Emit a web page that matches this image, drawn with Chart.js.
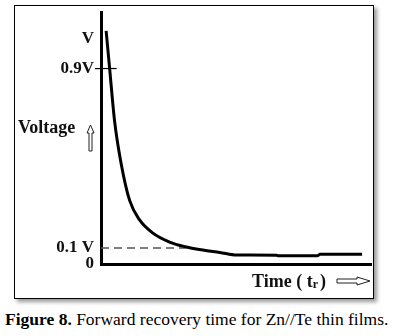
<!DOCTYPE html>
<html>
<head>
<meta charset="utf-8">
<script src="https://cdn.jsdelivr.net/npm/chart.js@4"></script>
<style>
    body { margin: 0; background: #fff; width: 393px; height: 336px; position: relative; overflow: hidden; }
    #frame { position: absolute; left: 14px; top: 5px; width: 358px; height: 292px; border: 1.5px solid #000; box-shadow: 3px 3px 4px #999; background: #fff; }
    #chart { position: absolute; left: 0; top: 0; }
    #caption { position: absolute; left: 5px; top: 309px; font-family: "Liberation Serif", "Times New Roman", serif; font-size: 17.5px; color: #000; white-space: nowrap; }
</style>
</head>
<body>
<div id="frame"></div>
<canvas id="chart" width="393" height="300"></canvas>
<div id="caption"><b>Figure 8.</b> Forward recovery time for Zn//Te thin films.</div>
<script>
// voltage decay (normalised, V = 1) against time (arbitrary units 0..100)
const timeValues = [1.9, 3.2, 5.0, 7.4, 10.6, 14.3, 19.1, 25.4, 31.7, 37.7, 44.0, 50.3, 65.1, 65.5, 80.3, 81.1, 96.7];
const voltageValues = [0.99, 0.83, 0.61, 0.43, 0.27, 0.187, 0.132, 0.093, 0.072, 0.059, 0.049, 0.038, 0.037, 0.035, 0.035, 0.041, 0.041];

// 10% level line
const thresholdX = [0, 31.7];
const thresholdY = [0.068, 0.068];

// short tick across the axis at 0.9V
const markX = [0, 5.8];
const markY = [0.83, 0.83];

const yTickValues = [0, 0.068, 0.83, 0.955];
const yTickLabels = ['0', '0.1 V', '0.9V', 'V'];

function toPoints(xs, ys) {
    return xs.map((x, i) => ({ x: x, y: ys[i] }));
}

const serif = '"Liberation Serif", "Times New Roman", serif';

function hollowUpArrow(ctx, cx, top, bottom) {
    ctx.beginPath();
    ctx.moveTo(cx, top);
    ctx.lineTo(cx + 3.5, top + 8);
    ctx.lineTo(cx + 1.5, top + 8);
    ctx.lineTo(cx + 1.5, bottom);
    ctx.lineTo(cx - 1.5, bottom);
    ctx.lineTo(cx - 1.5, top + 8);
    ctx.lineTo(cx - 3.5, top + 8);
    ctx.closePath();
    ctx.stroke();
}

function hollowRightArrow(ctx, left, right, cy) {
    ctx.beginPath();
    ctx.moveTo(right, cy);
    ctx.lineTo(right - 13, cy - 4);
    ctx.lineTo(right - 13, cy - 2);
    ctx.lineTo(left, cy - 2);
    ctx.lineTo(left, cy + 2);
    ctx.lineTo(right - 13, cy + 2);
    ctx.lineTo(right - 13, cy + 4);
    ctx.closePath();
    ctx.stroke();
}

const axisTitles = {
    id: 'axisTitles',
    afterDraw(chart) {
        const ctx = chart.ctx;
        const area = chart.chartArea;
        ctx.save();
        ctx.fillStyle = '#111';
        ctx.strokeStyle = '#222';
        ctx.lineWidth = 1;
        ctx.textBaseline = 'alphabetic';
        ctx.textAlign = 'left';

        // y title
        ctx.font = 'bold 18px ' + serif;
        ctx.fillText('Voltage', area.left - 83, 133);
        hollowUpArrow(ctx, area.left - 10.5, 125, 151);

        // x title: Time ( t r )
        let x = area.left + 151;
        const base = area.bottom + 23;
        ctx.font = 'bold 18px ' + serif;
        ctx.fillText('Time ( t', x, base);
        x += ctx.measureText('Time ( t').width;
        ctx.font = 'bold 12px ' + serif;
        ctx.fillText('r', x, base + 1);
        x += ctx.measureText('r').width + 2;
        ctx.font = 'bold 18px ' + serif;
        ctx.fillText(')', x, base);
        hollowRightArrow(ctx, area.left + 236, area.left + 269, area.bottom + 17);
        ctx.restore();
    }
};

const ctx = document.getElementById('chart').getContext('2d');
const chart = new Chart(ctx, {
    type: 'scatter',
    data: {
        datasets: [
            {
                label: 'Voltage',
                data: toPoints(timeValues, voltageValues),
                showLine: true,
                borderColor: '#000',
                borderWidth: 3,
                pointRadius: 0,
                cubicInterpolationMode: 'monotone',
                fill: false
            },
            {
                label: '0.1 V level',
                data: toPoints(thresholdX, thresholdY),
                showLine: true,
                borderColor: '#555',
                borderWidth: 1.3,
                borderDash: [8, 5],
                pointRadius: 0
            },
            {
                label: '0.9 V mark',
                data: toPoints(markX, markY),
                showLine: true,
                borderColor: '#000',
                borderWidth: 1.2,
                pointRadius: 0
            }
        ]
    },
    options: {
        responsive: false,
        animation: false,
        layout: {
            padding: { left: 41, top: 12, right: 22, bottom: 36 }
        },
        plugins: {
            legend: { display: false },
            tooltip: { enabled: false }
        },
        scales: {
            x: {
                type: 'linear',
                min: 0,
                max: 100,
                grid: { display: false, drawTicks: false },
                ticks: { display: false },
                border: { display: true, color: '#000', width: 3 },
                afterFit: function(scale) { scale.height = 0; }
            },
            y: {
                type: 'linear',
                min: 0,
                max: 1.07,
                afterBuildTicks: function(scale) {
                    scale.ticks = yTickValues.map(v => ({ value: v }));
                },
                afterFit: function(scale) { scale.width = 60; },
                ticks: {
                    autoSkip: false,
                    padding: 1,
                    color: '#111',
                    font: { family: serif, size: 17, weight: 'bold' },
                    callback: function(value, index) {
                        return yTickLabels[index];
                    }
                },
                grid: {
                    drawOnChartArea: false,
                    drawTicks: true,
                    tickLength: 6,
                    lineWidth: 1.2,
                    color: function(c) {
                        return c.tick && c.tick.value === 0.83 ? '#000' : 'rgba(0,0,0,0)';
                    }
                },
                border: { display: true, color: '#000', width: 3 }
            }
        }
    },
    plugins: [axisTitles]
});
</script>
</body>
</html>
